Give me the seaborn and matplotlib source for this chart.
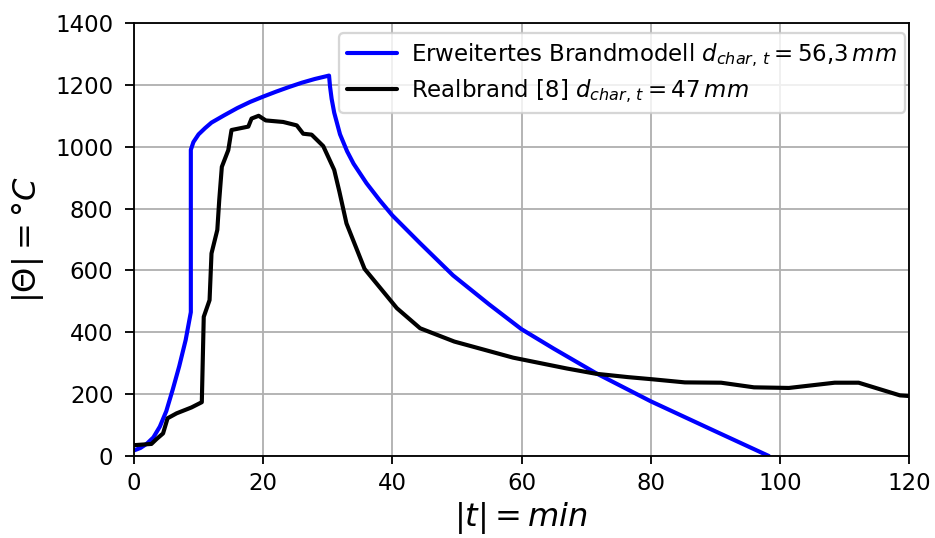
import matplotlib
matplotlib.use("Agg")
import matplotlib.pyplot as plt
import seaborn as sns

# Extended fire model (time in min, gas temperature in °C)
model_t = [0, 1, 2, 3, 4, 5, 6, 7, 8, 8.8, 8.8, 9.2, 10, 11, 12, 14, 16, 18,
           20, 22, 24, 26, 28, 30.2, 30.35, 30.6, 31, 31.9, 33, 34, 36, 38,
           40, 44.3, 49.4, 55, 60, 65, 71.6, 80, 90, 98.3]
model_T = [18, 26, 40, 60, 95, 145, 215, 290, 375, 465, 990, 1015, 1040,
           1060, 1078, 1102, 1125, 1145, 1162, 1178, 1193, 1207, 1219, 1230,
           1195, 1155, 1110, 1040, 985, 945, 882, 828, 778, 688, 584, 490,
           410, 347, 267, 177, 80, 0]

# Measured real fire [8]
real_t = [0, 2.7, 3.5, 4.5, 5.2, 6.6, 8.9, 10.5, 10.8, 11.7, 12.0, 12.9,
          13.2, 13.6, 14.6, 15.1, 17.7, 18.2, 19.3, 20.4, 23.1, 25.2, 26.2,
          27.5, 29.3, 31.0, 31.8, 32.9, 35.7, 40.7, 44.3, 49.6, 58.7, 67.0,
          71.5, 76.5, 80.3, 85.3, 90.9, 96.0, 101.4, 108.5, 112.2, 118.6, 120]
real_T = [35, 39, 55, 73, 122, 138, 157, 174, 450, 504, 655, 731, 828, 935,
          989, 1054, 1065, 1091, 1100, 1085, 1080, 1069, 1042, 1039, 1002,
          925, 855, 752, 605, 478, 413, 370, 318, 283, 266, 255, 248, 238,
          237, 222, 220, 237, 237, 196, 194]

label_model = r"Erweitertes Brandmodell $d_{char,\,t} = 56{,}3\,mm$"
label_real = r"Realbrand [8] $d_{char,\,t} = 47\,mm$"

x_ticks = [0, 20, 40, 60, 80, 100, 120]
y_ticks = [0, 200, 400, 600, 800, 1000, 1200, 1400]

sns.set_style("ticks")
plt.rcParams.update({
    "font.family": ["DejaVu Sans"],
    "mathtext.fontset": "dejavusans",
    "font.size": 10,
    "text.color": "black",
    "axes.labelcolor": "black",
    "axes.edgecolor": "black",
    "axes.linewidth": 0.8,
    "xtick.color": "black",
    "ytick.color": "black",
    "xtick.major.size": 3.5,
    "ytick.major.size": 4,
    "xtick.major.width": 0.8,
    "ytick.major.width": 0.8,
    "ytick.major.pad": 5,
    "xtick.labelsize": 10,
    "ytick.labelsize": 10,
    "grid.color": "#b0b0b0",
    "grid.linewidth": 0.8,
})

fig = plt.figure(figsize=(935 / 165, 538 / 165), dpi=165)
ax = fig.add_axes([134 / 935, 1 - 456 / 538, (909 - 134) / 935, (456 - 23) / 538])

sns.lineplot(x=model_t, y=model_T, sort=False, estimator=None,
             color="#0000ff", linewidth=1.8, label=label_model, ax=ax)
sns.lineplot(x=real_t, y=real_T, sort=False, estimator=None,
             color="black", linewidth=1.8, label=label_real, ax=ax)

ax.set_xlim(0, 120)
ax.set_ylim(0, 1400)
ax.set_xticks(x_ticks)
ax.set_yticks(y_ticks)
ax.grid(True)
ax.set_axisbelow(True)
ax.set_xlabel(r"$|t| = min$", fontsize=14, labelpad=2)
ax.set_ylabel(r"$|\Theta| = °C$", fontsize=14)
for s in ax.spines.values():
    s.set_visible(True)

ax.legend(loc="upper right", bbox_to_anchor=(0.995, 0.977), borderaxespad=0,
          fontsize=10, framealpha=0.8, edgecolor="0.8", fancybox=True,
          labelspacing=0.35, handlelength=2.2, handletextpad=0.6,
          borderpad=0.35)

fig.savefig("out.png", dpi=165)
